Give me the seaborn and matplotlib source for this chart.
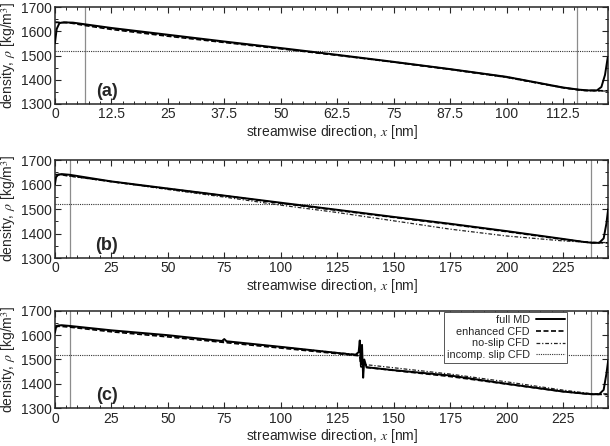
import pandas as pd
import seaborn as sns
import matplotlib.pyplot as plt
from matplotlib.ticker import MultipleLocator

# ---- dados ----
# painel (a): canal curto
a_x_max = 122.5
a_md_x = [0, 0.4, 1, 2, 4, 6.7, 12.5, 25, 37.5, 50, 62.5, 75, 87.5, 100, 112.5, 116, 118, 120, 121, 121.8, 122.4]
a_md_y = [1550, 1610, 1634, 1637, 1636, 1629, 1614, 1586, 1558, 1531, 1503, 1474, 1444, 1412, 1368, 1359, 1356, 1356, 1370, 1420, 1492]
a_enh_x = [0, 3, 6.7, 12.5, 25, 37.5, 50, 62.5, 75, 87.5, 100, 112.5, 117, 122.5]
a_enh_y = [1637, 1636, 1624, 1608, 1580, 1554, 1528, 1501, 1473, 1443, 1411, 1367, 1356, 1354]
a_ns_x = [0, 3, 6.7, 12.5, 25, 37.5, 50, 62.5, 75, 87.5, 100, 112.5, 117, 122.5]
a_ns_y = [1638, 1636, 1627, 1611, 1583, 1556, 1529, 1502, 1472, 1442, 1409, 1366, 1355, 1353]
a_inc_x = [0, 122.5]
a_inc_y = [1520, 1520]
a_vlines = [6.7, 115.6]
a_ticks = [0, 12.5, 25, 37.5, 50, 62.5, 75, 87.5, 100, 112.5]
a_tick_labels = ["0", "12.5", "25", "37.5", "50", "62.5", "75", "87.5", "100", "112.5"]

# painel (b): canal longo
b_x_max = 245
b_md_x = [0, 0.5, 1.5, 3, 6.6, 25, 50, 75, 100, 125, 150, 175, 200, 225, 234, 238, 241, 243, 244.2, 245]
b_md_y = [1600, 1630, 1641, 1643, 1640, 1613, 1584, 1555, 1526, 1497, 1468, 1440, 1410, 1378, 1366, 1362, 1362, 1380, 1440, 1500]
b_enh_x = [0, 3, 6.6, 25, 50, 75, 100, 125, 150, 175, 200, 225, 237, 245]
b_enh_y = [1641, 1640, 1636, 1612, 1583, 1554, 1524, 1495, 1466, 1438, 1408, 1376, 1363, 1362]
b_ns_x = [0, 3, 6.6, 25, 50, 75, 100, 125, 150, 175, 200, 225, 237, 245]
b_ns_y = [1641, 1639, 1634, 1612, 1580, 1549, 1516, 1486, 1452, 1418, 1390, 1370, 1364, 1363]
b_inc_x = [0, 245]
b_inc_y = [1520, 1520]
b_vlines = [6.6, 237.4]

# painel (c): canal longo com acoplamento no meio
c_x_max = 245
c_md_x = [0, 0.5, 1.5, 3, 6.6, 25, 50, 74, 75, 76, 100, 125, 133, 134.5, 135, 135.5, 136, 136.5, 137, 138,
          150, 175, 200, 225, 234, 238, 241, 243, 244.2, 245]
c_md_y = [1610, 1632, 1640, 1641, 1638, 1620, 1600, 1576, 1584, 1575, 1552, 1527, 1519, 1530, 1578, 1480, 1560, 1425, 1500, 1468,
          1456, 1434, 1400, 1368, 1360, 1357, 1357, 1375, 1440, 1495]
c_enh_x = [0, 3, 6.6, 25, 50, 75, 100, 125, 135, 135.5, 150, 175, 200, 225, 237, 245]
c_enh_y = [1637, 1636, 1633, 1614, 1593, 1570, 1547, 1524, 1515, 1470, 1455, 1430, 1399, 1368, 1357, 1356]
c_ns_x = [0, 3, 6.6, 25, 50, 75, 100, 125, 135, 135.5, 150, 175, 200, 225, 237, 245]
c_ns_y = [1640, 1639, 1636, 1618, 1597, 1574, 1551, 1528, 1520, 1481, 1466, 1440, 1408, 1374, 1360, 1358]
c_inc_x = [0, 245]
c_inc_y = [1520, 1520]
c_vlines = [6.6, 237.4]

b_ticks = [0, 25, 50, 75, 100, 125, 150, 175, 200, 225]

series_names = ["full MD", "enhanced CFD", "no-slip CFD", "incomp. slip CFD"]

# ---- estilo ----
sns.set_style("ticks")
plt.rcParams['font.family'] = ['Liberation Sans', 'DejaVu Sans']
plt.rcParams['mathtext.fontset'] = 'stix'
plt.rcParams['axes.linewidth'] = 1.1

estilos = {
    "full MD": dict(color="black", linewidth=1.4, linestyle="-"),
    "enhanced CFD": dict(color="black", linewidth=1.2, linestyle=(0, (3, 1.5))),
    "no-slip CFD": dict(color="#222222", linewidth=0.9, linestyle=(0, (3, 1.5, 1, 1.5))),
    "incomp. slip CFD": dict(color="#333333", linewidth=0.8, linestyle=(0, (1, 1))),
}

fig = plt.figure(figsize=(6.1, 4.46), dpi=100)
posicoes = [
    [0.090, 0.767, 0.907, 0.217],
    [0.090, 0.4215, 0.907, 0.2195],
    [0.090, 0.085, 0.907, 0.218],
]

paineis = [
    ("(a)", a_x_max, [(a_md_x, a_md_y), (a_enh_x, a_enh_y), (a_ns_x, a_ns_y), (a_inc_x, a_inc_y)], a_vlines, a_ticks, a_tick_labels, 2.5),
    ("(b)", b_x_max, [(b_md_x, b_md_y), (b_enh_x, b_enh_y), (b_ns_x, b_ns_y), (b_inc_x, b_inc_y)], b_vlines, b_ticks, [str(t) for t in b_ticks], 5),
    ("(c)", c_x_max, [(c_md_x, c_md_y), (c_enh_x, c_enh_y), (c_ns_x, c_ns_y), (c_inc_x, c_inc_y)], c_vlines, b_ticks, [str(t) for t in b_ticks], 5),
]

for pos, (letra, xmax, dados, vlines, ticks, tick_labels, minor) in zip(posicoes, paineis):
    ax = fig.add_axes(pos)
    for xv in vlines:
        ax.axvline(xv, color="#8c8c8c", linewidth=0.9, zorder=1)
    # ordem de desenho: tracejados por baixo, MD por cima
    for nome, (xs, ys) in reversed(list(zip(series_names, dados))):
        df = pd.DataFrame({"x": xs, "rho": ys})
        sns.lineplot(data=df, x="x", y="rho", ax=ax, estimator=None, sort=False,
                     label=nome, zorder=3 if nome == "full MD" else 2, **estilos[nome])
    ax.set_xlim(0, xmax)
    ax.set_ylim(1300, 1700)
    ax.set_xticks(ticks)
    ax.set_xticklabels(tick_labels)
    ax.xaxis.set_minor_locator(MultipleLocator(minor))
    ax.yaxis.set_major_locator(MultipleLocator(100))
    ax.yaxis.set_minor_locator(MultipleLocator(50))
    ax.tick_params(which="both", direction="in", top=True, right=True, labelsize=10, pad=2.5)
    ax.tick_params(which="major", length=4, width=0.8)
    ax.tick_params(which="minor", length=2, width=0.7)
    ax.set_xlabel(r"streamwise direction, $x$ [nm]", fontsize=10, labelpad=1)
    ax.set_ylabel(r"density, $\rho$ [kg/m$^3$]", fontsize=10, labelpad=1.5)
    ax.text(0.094, 0.125, letra, transform=ax.transAxes, fontsize=13, fontweight="bold",
            ha="center", va="center")
    if letra == "(c)":
        handles, labels = ax.get_legend_handles_labels()
        ordem = [labels.index(n) for n in series_names]
        leg = ax.legend([handles[i] for i in ordem], [labels[i] for i in ordem],
                        loc="upper right", bbox_to_anchor=(0.928, 0.995), markerfirst=False,
                        fontsize=7.8, frameon=True, fancybox=False, framealpha=1,
                        edgecolor="#555555", handlelength=2.6, handletextpad=0.6,
                        labelspacing=0.15, borderpad=0.25, borderaxespad=0.1)
        leg.get_frame().set_linewidth(0.7)
    else:
        ax.get_legend().remove()

plt.savefig("out.png", dpi=100)
